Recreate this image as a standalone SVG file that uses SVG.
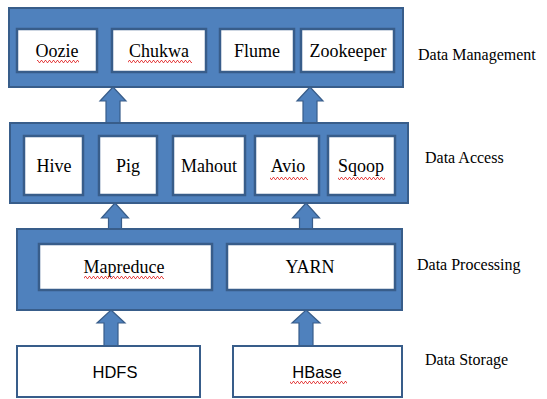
<svg xmlns="http://www.w3.org/2000/svg" width="547" height="399" viewBox="0 0 547 399">
  <defs>
    <style>
      .band { fill: #4f81bd; stroke: #385d8a; stroke-width: 2; }
      .box { fill: #ffffff; stroke: #385d8a; stroke-width: 2.5; }
      .store { fill: #ffffff; stroke: #385d8a; stroke-width: 2; }
      .arrow { fill: #4f81bd; stroke: #385d8a; stroke-width: 1.2; stroke-linejoin: miter; }
      text.name { font-family: "Liberation Serif", "Times New Roman", serif; font-size: 18px; fill: #000; text-anchor: middle; }
      text.store-name { font-family: "Liberation Sans", Arial, sans-serif; font-size: 16.5px; fill: #000; text-anchor: middle; }
      text.lbl { font-family: "Liberation Serif", "Times New Roman", serif; font-size: 16px; fill: #000; }
      .wave { fill: url(#squiggle); }
    </style>
    <!-- red wavy underline -->
    <pattern id="squiggle" width="4" height="3" patternUnits="userSpaceOnUse">
      <path d="M0,2.5 L1,0.5 L2,0.5 L3,2.5 L4,2.5" fill="none" stroke="#e02020" stroke-width="0.8"/>
    </pattern>
  </defs>

  <!-- block arrows between layers -->
  <g id="connectors">
    <polygon class="arrow" points="113,87 126,101 120,101 120,124 106,124 106,101 100,101"/>
    <polygon class="arrow" points="310,87 323,101 317,101 317,124 303,124 303,101 297,101"/>
    <polygon class="arrow" points="115,203 128.5,218 121.5,218 121.5,230 108.5,230 108.5,218 101.5,218"/>
    <polygon class="arrow" points="306,203 319.5,218 312.5,218 312.5,230 299.5,230 299.5,218 292.5,218"/>
    <polygon class="arrow" points="111,310 125,323 118,323 118,347 104,347 104,323 97,323"/>
    <polygon class="arrow" points="306,310 320,323 313,323 313,347 299,347 299,323 292,323"/>
  </g>

  <!-- Data Management layer -->
  <g id="layer-management" font-family="Liberation Serif, serif">
    <rect class="band" x="9" y="8" width="394" height="79"/>
    <g id="oozie"><rect class="box" x="17" y="29" width="80" height="43"/><text class="name" x="57" y="57">Oozie</text></g>
    <g id="chukwa"><rect class="box" x="112" y="29" width="94" height="43"/><text class="name" x="159" y="57">Chukwa</text></g>
    <g id="flume"><rect class="box" x="220" y="29" width="74" height="43"/><text class="name" x="257" y="57">Flume</text></g>
    <g id="zookeeper"><rect class="box" x="301" y="29" width="93" height="43"/><text class="name" x="348" y="57">Zookeeper</text></g>
  </g>

  <!-- Data Access layer -->
  <g id="layer-access" font-family="Liberation Serif, serif">
    <rect class="band" x="10" y="123" width="398" height="80"/>
    <g id="hive"><rect class="box" x="24" y="136" width="59" height="59"/><text class="name" x="54" y="172">Hive</text></g>
    <g id="pig"><rect class="box" x="99" y="136" width="58" height="59"/><text class="name" x="128" y="172">Pig</text></g>
    <g id="mahout"><rect class="box" x="173" y="136" width="72" height="59"/><text class="name" x="209" y="172">Mahout</text></g>
    <g id="avio"><rect class="box" x="255" y="136" width="64" height="59"/><text class="name" x="288" y="172">Avio</text></g>
    <g id="sqoop"><rect class="box" x="328" y="136" width="67" height="59"/><text class="name" x="361" y="172">Sqoop</text></g>
  </g>

  <!-- Data Processing layer -->
  <g id="layer-processing" font-family="Liberation Serif, serif">
    <rect class="band" x="17" y="229" width="385" height="81"/>
    <g id="mapreduce"><rect class="box" x="39" y="244" width="173" height="46"/><text class="name" x="124" y="273">Mapreduce</text></g>
    <g id="yarn"><rect class="box" x="227" y="244" width="168" height="46"/><text class="name" x="310" y="273" font-size="17">YARN</text></g>
  </g>

  <!-- Data Storage layer -->
  <g id="hdfs"><rect class="store" x="17" y="346" width="183" height="51"/><text class="store-name" x="115" y="378">HDFS</text></g>
  <g id="hbase"><rect class="store" x="233" y="346" width="169" height="51"/><text class="store-name" x="317" y="378">HBase</text></g>

  <!-- spelling underlines -->
  <g id="underlines">
    <rect class="wave" x="37" y="60" width="42" height="3"/>
    <rect class="wave" x="128" y="60" width="64" height="3"/>
    <rect class="wave" x="270" y="177" width="38" height="3"/>
    <rect class="wave" x="338" y="177" width="47" height="3"/>
    <rect class="wave" x="84" y="276" width="80" height="3"/>
    <rect class="wave" x="290" y="381" width="57" height="3"/>
  </g>

  <!-- layer labels -->
  <g id="labels">
    <text class="lbl" x="418" y="60">Data Management</text>
    <text class="lbl" x="425" y="163">Data Access</text>
    <text class="lbl" x="417" y="270">Data Processing</text>
    <text class="lbl" x="425" y="365">Data Storage</text>
  </g>
</svg>
